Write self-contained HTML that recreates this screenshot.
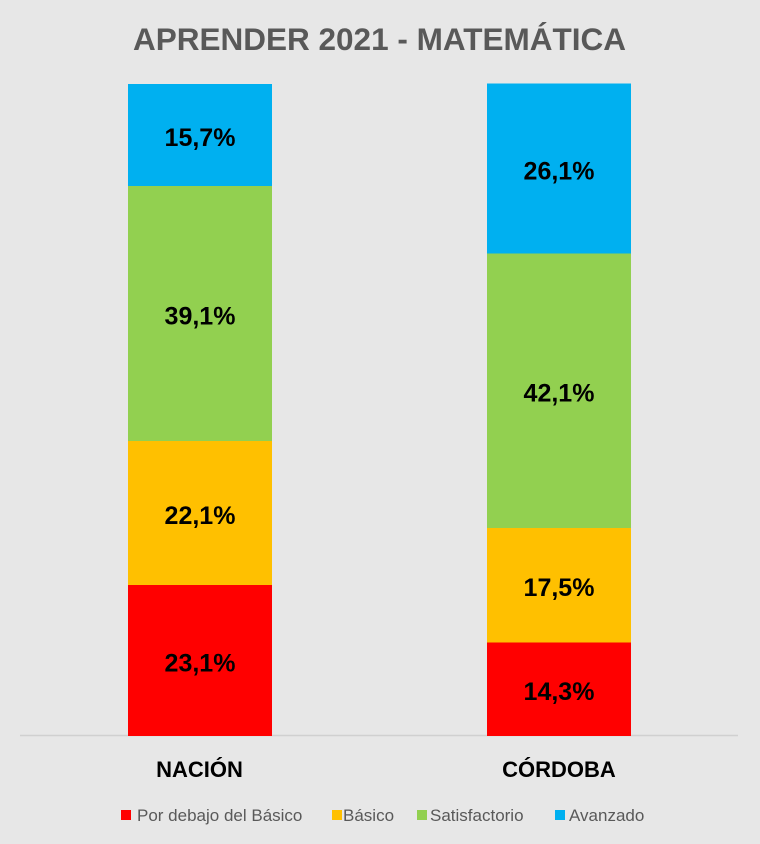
<!DOCTYPE html>
<html>
<head>
<meta charset="utf-8">
<style>
  html,body{margin:0;padding:0;background:#e7e7e7;}
  svg{display:block;}
  text{font-family:"Liberation Sans", Arial, sans-serif;}
</style>
</head>
<body>
<svg width="760" height="844" viewBox="0 0 760 844" xmlns="http://www.w3.org/2000/svg">
  <rect x="0" y="0" width="760" height="844" fill="#e7e7e7"/>
  <!-- Title -->
  <text x="379.5" y="50" text-anchor="middle" font-size="31.5" font-weight="bold" fill="#595959">APRENDER 2021 - MATEMÁTICA</text>

  <!-- axis line -->
  <line x1="20" y1="735.5" x2="738" y2="735.5" stroke="#d0d0d0" stroke-width="1.5"/>

  <!-- NACION bar -->
  <rect x="128" y="84" width="144" height="102" fill="#00B0F0"/>
  <rect x="128" y="186" width="144" height="255" fill="#92D050"/>
  <rect x="128" y="441" width="144" height="144" fill="#FFC000"/>
  <rect x="128" y="585" width="144" height="151" fill="#FF0000"/>

  <!-- CORDOBA bar -->
  <rect x="487" y="83.5" width="144" height="170" fill="#00B0F0"/>
  <rect x="487" y="253.5" width="144" height="274.5" fill="#92D050"/>
  <rect x="487" y="528" width="144" height="114.5" fill="#FFC000"/>
  <rect x="487" y="642.5" width="144" height="93.5" fill="#FF0000"/>

  <!-- data labels -->
  <g font-size="25" font-weight="bold" fill="#000" text-anchor="middle">
    <text x="200" y="146">15,7%</text>
    <text x="200" y="324.5">39,1%</text>
    <text x="200" y="524">22,1%</text>
    <text x="200" y="671.5">23,1%</text>
    <text x="559" y="179.5">26,1%</text>
    <text x="559" y="401.5">42,1%</text>
    <text x="559" y="596">17,5%</text>
    <text x="559" y="700">14,3%</text>
  </g>

  <!-- category labels -->
  <g font-size="22" font-weight="bold" fill="#000" text-anchor="middle">
    <text x="199.5" y="777">NACIÓN</text>
    <text x="559" y="777">CÓRDOBA</text>
  </g>

  <!-- legend -->
  <rect x="121" y="810" width="10" height="10" fill="#FF0000"/>
  <rect x="332" y="810" width="10" height="10" fill="#FFC000"/>
  <rect x="417" y="810" width="10" height="10" fill="#92D050"/>
  <rect x="555" y="810" width="10" height="10" fill="#00B0F0"/>
  <g font-size="17" fill="#595959">
    <text x="137" y="821">Por debajo del Básico</text>
    <text x="343" y="821">Básico</text>
    <text x="430" y="821">Satisfactorio</text>
    <text x="569" y="821">Avanzado</text>
  </g>
</svg>
</body>
</html>
